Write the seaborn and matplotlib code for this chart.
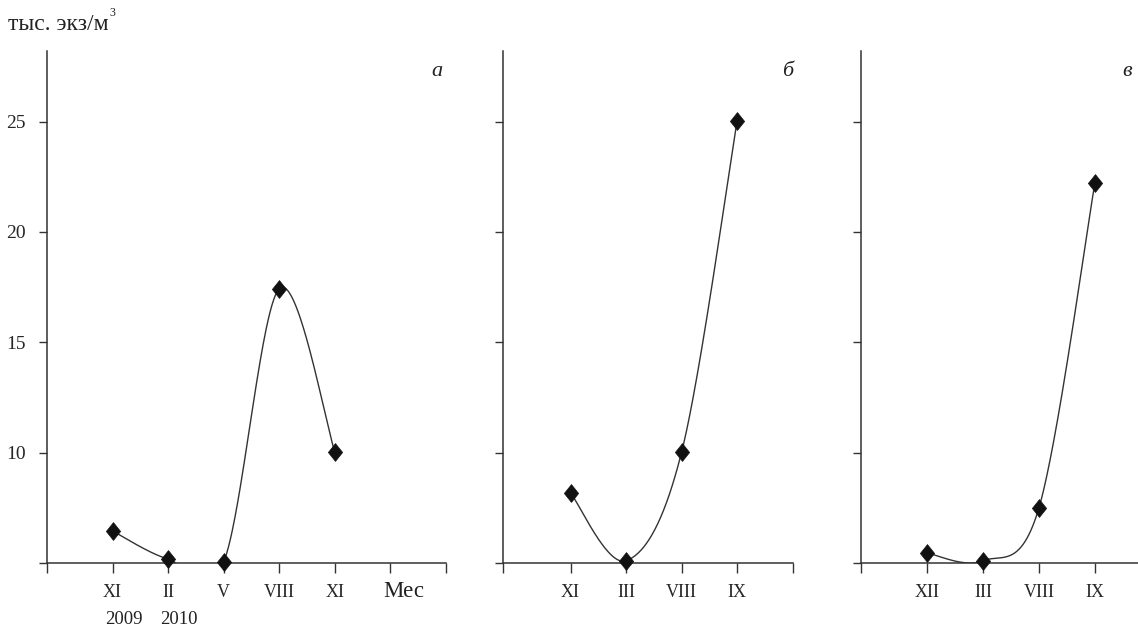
import numpy as np
import matplotlib
matplotlib.use("Agg")
import matplotlib.pyplot as plt
from matplotlib.path import Path
import seaborn as sns

# ---- data ----
cats_a = ["XI", "II", "V", "VIII", "XI"]
vals_a = [6.45, 5.18, 5.05, 17.43, 10.03]
years_a = ["2009", "2010"]

cats_b = ["XI", "III", "VIII", "IX"]
vals_b = [8.17, 5.10, 10.03, 25.05]

cats_c = ["XII", "III", "VIII", "IX"]
vals_c = [5.45, 5.10, 7.50, 22.2]

yticks = [5, 10, 15, 20, 25]
ytick_labels = ["", "10", "15", "20", "25"]
ylabel_main = "тыс. экз/м"
ylabel_sup = "3"
month_label = "Мес"
panel_letters = ["а", "б", "в"]

sns.set_theme(style="white")
plt.rcParams["font.family"] = ["Liberation Serif", "DejaVu Serif"]

W, H = 1138, 627
fig = plt.figure(figsize=(W / 100, H / 100), dpi=100)


def smooth(x, y, n=60):
    pts = np.column_stack([x, y]).astype(float)
    P = np.vstack([pts[0], pts, pts[-1]])
    out = []
    t = np.linspace(0, 1, n)[:, None]
    for i in range(1, len(P) - 2):
        p0, p1, p2, p3 = P[i - 1], P[i], P[i + 1], P[i + 2]
        c1 = p1 + (p2 - p0) / 6
        c2 = p2 - (p3 - p1) / 6
        seg = (1 - t) ** 3 * p1 + 3 * (1 - t) ** 2 * t * c1 + 3 * (1 - t) * t ** 2 * c2 + t ** 3 * p2
        out.append(seg)
    return np.vstack(out)


diamond = Path([(0, 1), (0.8, 0), (0, -1), (-0.8, 0), (0, 1)],
               [Path.MOVETO, Path.LINETO, Path.LINETO, Path.LINETO, Path.CLOSEPOLY])

ybot, ytop = 5, 28.2
bottom = (H - 563) / H
top = (H - 51) / H

panels = [
    (cats_a, vals_a, 46.7, 446.0, -0.185, 7.0, cats_a + ["", ""]),
    (cats_b, vals_b, 503.3, 792.7, -0.212, 5.0, cats_b + [""]),
    (cats_c, vals_c, 860.7, 1150.7, -0.19, 5.0, cats_c + [""]),
]

axes = []
for k, (cats, vals, lpx, rpx, xl, xr, labels) in enumerate(panels):
    ax = fig.add_axes([lpx / W, bottom, (rpx - lpx) / W, top - bottom])
    axes.append(ax)
    xs = np.arange(1, len(cats) + 1)
    curve = smooth(xs, vals)
    sns.lineplot(x=curve[:, 0], y=curve[:, 1], ax=ax, sort=False, estimator=None,
                 color="#333333", linewidth=1.0)
    sns.scatterplot(x=xs, y=vals, ax=ax, marker=diamond, s=165, color="#111111",
                    edgecolor="#111111", linewidth=0.5, zorder=5, clip_on=False)
    ax.set_xlim(xl, xr)
    ax.set_ylim(ybot, ytop)
    tick_pos = [xl] + list(range(1, len(labels) + 1))
    ax.set_xticks(tick_pos)
    ax.set_xticklabels([""] + labels)
    ax.set_yticks(yticks)
    if k == 0:
        ax.set_yticklabels(ytick_labels)
    else:
        ax.set_yticklabels([""] * len(yticks))
    for s in ["top", "right"]:
        ax.spines[s].set_visible(False)
    for s in ["left", "bottom"]:
        ax.spines[s].set_color("#333333")
        ax.spines[s].set_linewidth(1.1)
    ax.tick_params(axis="x", direction="out", length=7, width=1.0, color="#333333",
                   pad=8, labelsize=13, bottom=True)
    ax.tick_params(axis="y", direction="out", length=6, width=1.0, color="#333333",
                   pad=9, labelsize=14, left=True)
    ax.set_xlabel("")
    ax.set_ylabel("")
    ax.patch.set_alpha(0)

trans = axes[0].get_xaxis_transform()
# month axis title
axes[0].text(6.24, -0.066, month_label, transform=trans, ha="center", va="baseline",
             fontsize=16.5, color="#222222")
# year labels
for i, yr in enumerate(years_a):
    axes[0].text(i + 1.2, -0.110, yr, transform=trans, ha="center", va="center",
                 fontsize=13.5, color="#222222")

# panel letters
for (px, letter) in zip([437, 788, 1127], panel_letters):
    fig.text(px / W, 1 - 72 / H, letter, ha="center", va="center",
             fontsize=16, style="italic", color="#222222")

t = fig.text(8 / W, 1 - 24 / H, ylabel_main, ha="left", va="center", fontsize=17, color="#222222")
fig.canvas.draw()
bb = t.get_window_extent()
fig.text((bb.x1 + 1) / W, 1 - 13 / H, ylabel_sup, ha="left", va="center", fontsize=8.5,
         color="#222222")

fig.savefig("out.png", dpi=100)
